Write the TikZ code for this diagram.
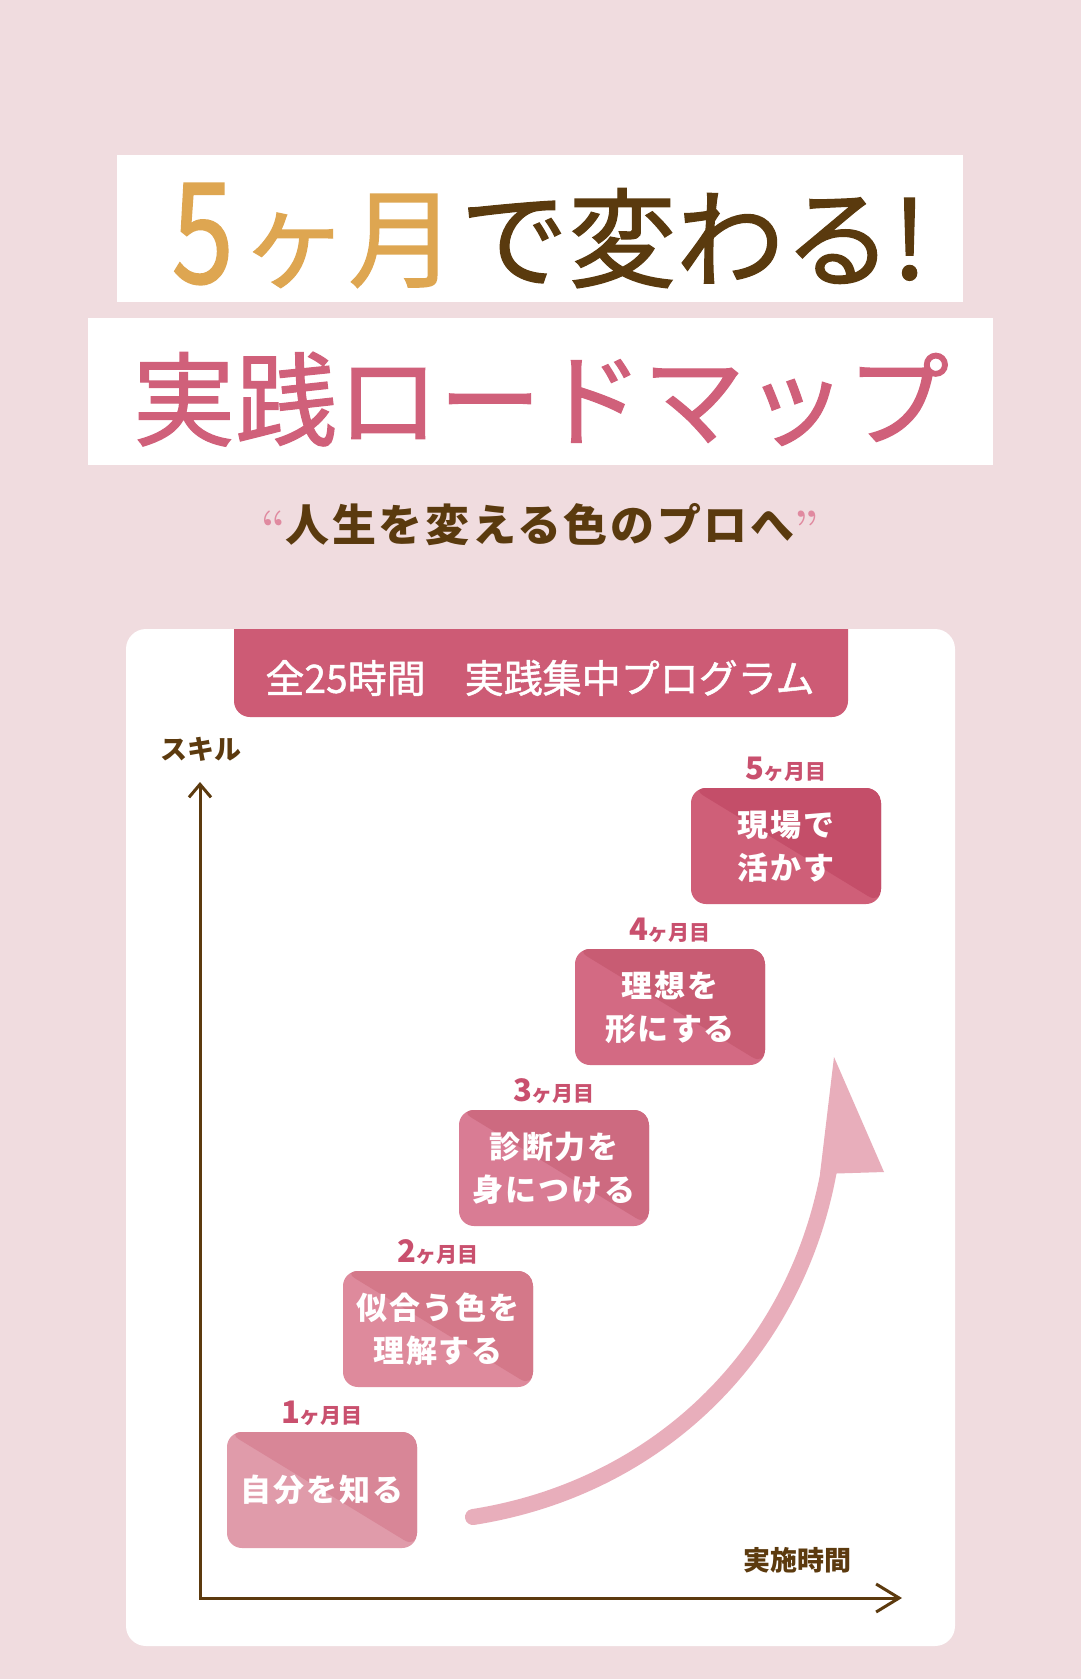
\documentclass[tikz,border=0pt]{standalone}
\usepackage{fontspec}
\usetikzlibrary{positioning,arrows.meta}

\newfontfamily\jpsans{Noto Sans CJK JP}
\newfontfamily\jpsansmed{Noto Sans CJK JP}[FakeBold=1.2]
\newfontfamily\jpsanswide{Noto Sans CJK JP}[LetterSpace=6]

\definecolor{bgpink}{HTML}{F0DCDF}
\definecolor{titlegold}{HTML}{DEA651}
\definecolor{titlebrown}{HTML}{5A3A0E}
\definecolor{titlepink}{HTML}{D0607A}
\definecolor{quotepink}{HTML}{E08AA0}
\definecolor{axisbrown}{HTML}{5C3A0E}
\definecolor{bannerpink}{HTML}{CD5B75}
\definecolor{monthpink}{HTML}{C9506E}
\definecolor{curvepink}{HTML}{E8AEBB}
\definecolor{s1l}{HTML}{E09BAA}
\definecolor{s1d}{HTML}{D88697}
\definecolor{s2l}{HTML}{DE8A9C}
\definecolor{s2d}{HTML}{D47889}
\definecolor{s3l}{HTML}{D97C94}
\definecolor{s3d}{HTML}{CD6A80}
\definecolor{s4l}{HTML}{D36A83}
\definecolor{s4d}{HTML}{C85C73}
\definecolor{s5l}{HTML}{CF5F78}
\definecolor{s5d}{HTML}{C44E69}

\begin{document}
\begin{tikzpicture}[x=1pt, y=-1pt,
	stepbox/.style 2 args={fill=#1, rounded corners=15pt, minimum width=190pt, minimum height=116pt,
		inner sep=0pt, text=white, align=center, font=\jpsanswide\bfseries\fontsize{31}{43}\selectfont,
		path picture={\fill[#2] (path picture bounding box.north west) -- (path picture bounding box.north east)
			-- (path picture bounding box.south east) -- cycle;}},
	monthlabel/.style={text=monthpink, inner sep=0pt, font=\jpsans\bfseries},
	axislabel/.style={text=axisbrown, inner sep=0pt, font=\jpsans\bfseries\fontsize{27}{27}\selectfont},
	axisline/.style={draw=axisbrown, line width=3pt}]
	\useasboundingbox (0,0) rectangle (1081,1679);
	\fill[bgpink] (0,0) rectangle (1081,1679);

	% Title bands
	\fill[white] (117,155) rectangle (963,302);
	\fill[white] (88,318) rectangle (993,465);
	\node [anchor=base east, inner sep=0pt, text=titlegold, font=\jpsansmed\fontsize{140}{140}\selectfont, xscale=0.8] (five) at (234,283) {5};
	\node [anchor=base west, inner sep=0pt, text=titlegold, font=\jpsansmed\fontsize{108}{108}\selectfont] (kagetsu) at (240,279) {ヶ月};
	\node [anchor=base west, inner sep=0pt, text=titlebrown, font=\jpsansmed\fontsize{108}{108}\selectfont] (kawaru) at (460,279) {で変わる!};
	\node [anchor=base, inner sep=0pt, text=titlepink, font=\jpsansmed\fontsize{102}{102}\selectfont] (roadmap) at (541,438) {実践ロードマップ};
	\node [anchor=base, inner sep=0pt, text=titlebrown, font=\jpsanswide\bfseries\fontsize{44}{44}\selectfont] (catch) at (540,541)
		{{\color{quotepink}\rmfamily\bfseries “}人生を変える色のプロへ{\color{quotepink}\rmfamily\bfseries ”}};

	% Panel and banner
	\fill[white, rounded corners=20pt] (126,629) rectangle (955,1646);
	\begin{scope}
		\clip (234,629) rectangle (848,720);
		\fill[bannerpink, rounded corners=16pt] (234,600) rectangle (848,717);
	\end{scope}
	\node [text=white, font=\jpsansmed\fontsize{39}{39}\selectfont] (banner) at (540,678) {全25時間　実践集中プログラム};

	% Axes
	\coordinate (origin) at (200,1598);
	\coordinate (ytop) at (200,782);
	\coordinate (xend) at (902,1598);
	\draw[axisline, {Straight Barb[length=13pt,width=22pt]}-{Straight Barb[length=23pt,width=28pt]}] (ytop) -- (origin) -- (xend);
	\node [axislabel] (skill) at (201,749) {スキル};
	\node [axislabel] (jikan) at (797,1560) {実施時間};

	% Growth curve
	\coordinate (curvestart) at (473,1517);
	\coordinate (curveend) at (829,1170);
	\coordinate (curvetip) at (834,1057);
	\draw[curvepink, line width=16pt, line cap=round] (curvestart) .. controls (658,1488) and (796,1353) .. (curveend);
	\fill[curvepink] (curvetip) -- (884,1172) -- (820,1174) -- cycle;

	% Monthly steps, from bottom to top
	\foreach \i/\lt/\dk/\txt in {1/s1l/s1d/{自分を知る}, 2/s2l/s2d/{似合う色を\\理解する}, 3/s3l/s3d/{診断力を\\身につける},
		4/s4l/s4d/{理想を\\形にする}, 5/s5l/s5d/{現場で\\活かす}}{
		\node [stepbox={\lt}{\dk}] (step\i) at ({322+116*(\i-1)}, {1490-161*(\i-1)}) {\txt};
		\node [monthlabel, above=6pt of step\i] (month\i) {{\fontsize{31}{31}\selectfont\i}\fontsize{21}{21}\selectfont ヶ月目};
	}
\end{tikzpicture}
\end{document}
